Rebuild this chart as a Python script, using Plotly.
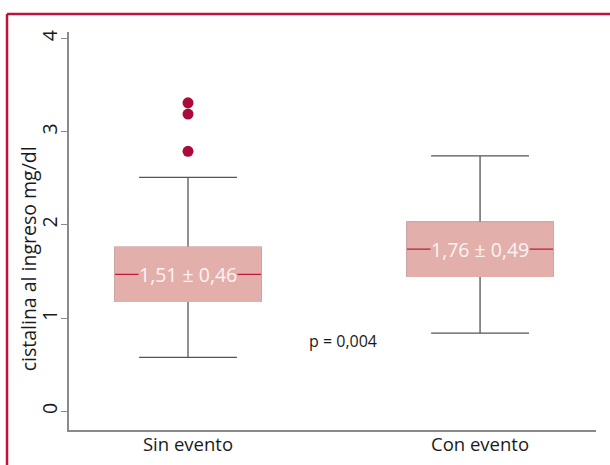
import plotly.graph_objects as go

# Serum cystatin at admission, grouped by outcome
categories = ["Sin evento", "Con evento"]
q1 = [1.18, 1.45]
median = [1.47, 1.74]
q3 = [1.76, 2.03]
lower_fence = [0.58, 0.84]
upper_fence = [2.51, 2.74]
outlier_group = ["Sin evento", "Sin evento", "Sin evento"]
outlier_values = [3.31, 3.19, 2.79]
box_labels = ["1,51 ± 0,46", "1,76 ± 0,49"]
p_label = "p = 0,004"
y_title = "cistalina al ingreso mg/dl"
y_ticks = [0, 1, 2, 3, 4]

FONT = "Open Sans"
BOX_FILL = "#e3afab"
MEDIAN_RED = "#c2183f"
DOT_RED = "#ab0a3a"
FRAME_RED = "#b8143f"
WHISKER = "#555555"
AXIS_GREY = "#8a8a8a"
TEXT = "#1a1a1a"
BOX_WIDTH = 0.5

fig = go.Figure()

fig.add_trace(go.Box(
    x=categories,
    q1=q1, median=median, q3=q3,
    lowerfence=lower_fence, upperfence=upper_fence,
    width=BOX_WIDTH, whiskerwidth=0.67,
    fillcolor=BOX_FILL,
    line=dict(color=WHISKER, width=1.3),
    boxpoints=False, hoverinfo="skip", showlegend=False,
))

fig.add_trace(go.Scatter(
    x=outlier_group, y=outlier_values, mode="markers",
    marker=dict(color=DOT_RED, size=11),
    hoverinfo="skip", showlegend=False,
))

shapes = []
half = BOX_WIDTH / 2
for i in range(len(categories)):
    # plain filled box body, no outline
    shapes.append(dict(type="rect", xref="x", yref="y", layer="above",
                       x0=i - half, x1=i + half, y0=q1[i], y1=q3[i],
                       fillcolor=BOX_FILL, line=dict(color=BOX_FILL, width=1.4)))
    # median line
    shapes.append(dict(type="line", xref="x", yref="y", layer="above",
                       x0=i - half, x1=i + half, y0=median[i], y1=median[i],
                       line=dict(color=MEDIAN_RED, width=1.2)))

# page frame: left and top rules
shapes.append(dict(type="line", xref="paper", yref="paper",
                   x0=-0.1176, x1=-0.1176, y0=-0.1, y1=1.0452,
                   line=dict(color=FRAME_RED, width=2.5)))
shapes.append(dict(type="line", xref="paper", yref="paper",
                   x0=-0.1176, x1=1.05, y0=1.0452, y1=1.0452,
                   line=dict(color=FRAME_RED, width=2.5)))

annotations = []
for i, cat in enumerate(categories):
    annotations.append(dict(
        x=cat, y=median[i], xref="x", yref="y",
        text=box_labels[i], showarrow=False,
        font=dict(family=FONT, size=19.5, color="#fbf3f3"),
        bgcolor=BOX_FILL, borderpad=0,
    ))
annotations.append(dict(
    x=0.53, y=0.76, xref="x", yref="y", text=p_label, showarrow=False,
    font=dict(family=FONT, size=16, color=TEXT),
))
# rotated y-axis title
annotations.append(dict(
    x=-0.077, y=0.43, xref="paper", yref="paper", text=y_title,
    textangle=-90, showarrow=False, xanchor="center", yanchor="middle",
    font=dict(family=FONT, size=19.5, color=TEXT),
))

fig.update_layout(
    width=610, height=465,
    margin=dict(l=69, r=14, t=32, b=35),
    paper_bgcolor="white", plot_bgcolor="white",
    font=dict(family=FONT, color=TEXT),
    shapes=shapes, annotations=annotations,
    showlegend=False,
)

fig.update_xaxes(
    type="category", range=[-0.4075, 1.397], automargin=False,
    showline=True, linecolor=AXIS_GREY, linewidth=1.5,
    ticks="", showgrid=False, zeroline=False, ticklabelstandoff=-3,
    tickfont=dict(family=FONT, size=18.5, color=TEXT),
)

fig.update_yaxes(
    range=[-0.2, 4.07], tickvals=y_ticks, automargin=False,
    showline=True, linecolor=AXIS_GREY, linewidth=1.5,
    ticks="outside", ticklen=6, tickcolor=AXIS_GREY, tickwidth=1,
    tickangle=-90, showgrid=False, zeroline=False, ticklabelstandoff=-4,
    tickfont=dict(family=FONT, size=19.5, color=TEXT),
)

fig.write_html("out.html")
